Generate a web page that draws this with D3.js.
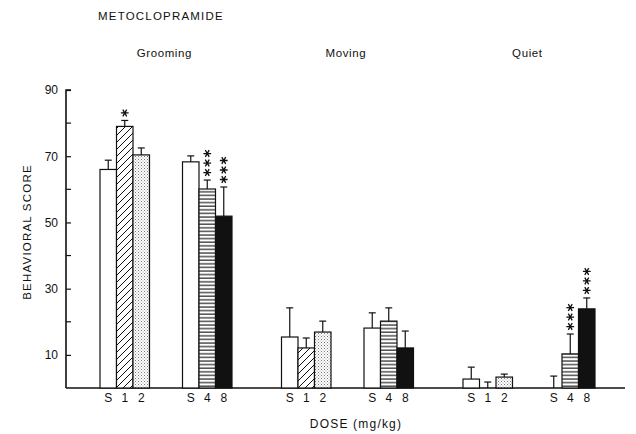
<!DOCTYPE html>
<html>
<head>
<meta charset="utf-8">
<script src="https://cdn.jsdelivr.net/npm/d3@7"></script>
<style>
  html, body { margin: 0; padding: 0; background: #fff; }
  svg { display: block; }
  text { font-family: "Liberation Sans", Arial, sans-serif; fill: #111; }
</style>
</head>
<body>
<svg id="chart" width="636" height="434"></svg>
<script>
// ---- data ----
const title = "METOCLOPRAMIDE";
const panels = ["Grooming", "Moving", "Quiet"];
const doseLabels = [["S", "1", "2"], ["S", "4", "8"]];
const patterns = [["open", "hatch", "dots"], ["open", "stripes", "solid"]];
const yTicks = [10, 30, 50, 70, 90];
const yMinorTicks = [20, 40, 60, 80];

const groomingValues = [[66, 79, 70.4], [68.3, 60.1, 51.9]];
const groomingErrors = [[2.8, 1.8, 2.1], [1.8, 2.7, 8.8]];
const groomingStars  = [[0, 1, 0], [0, 3, 3]];

const movingValues = [[15.4, 12.1, 16.9], [18.1, 20.2, 12.1]];
const movingErrors = [[8.8, 3, 3.3], [4.6, 4, 5.1]];
const movingStars  = [[0, 0, 0], [0, 0, 0]];

const quietValues = [[2.7, 0, 3.3], [0, 10.3, 23.9]];
const quietErrors = [[3.6, 1.8, 0.9], [3.6, 6, 3.3]];
const quietStars  = [[0, 0, 0], [0, 3, 3]];

const allValues = [groomingValues, movingValues, quietValues];
const allErrors = [groomingErrors, movingErrors, quietErrors];
const allStars  = [groomingStars, movingStars, quietStars];

// ---- build rows ----
const rows = [];
panels.forEach((p, pi) => {
  doseLabels.forEach((grp, gi) => {
    grp.forEach((lab, bi) => {
      rows.push({
        panel: p, pi, gi, bi, label: lab,
        pos: pi * 11 + gi * 5 + bi,
        value: allValues[pi][gi][bi],
        err: allErrors[pi][gi][bi],
        stars: allStars[pi][gi][bi],
        pattern: patterns[gi][bi]
      });
    });
  });
});

const svg = d3.select("#chart");

// ---- scales ----
const x = d3.scaleLinear().domain([0, 1]).range([100, 116.5]);
const y = d3.scaleLinear().domain([0, 90]).range([388, 90]);
const bw = x(1) - x(0);

// ---- patterns ----
const defs = svg.append("defs");
const ph = defs.append("pattern").attr("id", "hatch").attr("patternUnits", "userSpaceOnUse")
  .attr("width", 7).attr("height", 7);
ph.append("rect").attr("width", 7).attr("height", 7).attr("fill", "#fff");
ph.append("path").attr("d", "M-1,8 L8,-1 M-1,1 L1,-1 M6,8 L8,6")
  .attr("stroke", "#111").attr("stroke-width", 1);

const pd = defs.append("pattern").attr("id", "dots").attr("patternUnits", "userSpaceOnUse")
  .attr("width", 3).attr("height", 3);
pd.append("rect").attr("width", 3).attr("height", 3).attr("fill", "#fff");
pd.append("rect").attr("x", 0).attr("y", 0).attr("width", 1).attr("height", 1).attr("fill", "#777");
pd.append("rect").attr("x", 1.5).attr("y", 1.5).attr("width", 1).attr("height", 1).attr("fill", "#999");

const ps = defs.append("pattern").attr("id", "stripes").attr("patternUnits", "userSpaceOnUse")
  .attr("width", 6).attr("height", 3.6);
ps.append("rect").attr("width", 6).attr("height", 3.6).attr("fill", "#fff");
ps.append("line").attr("x1", 0).attr("x2", 6).attr("y1", 1).attr("y2", 1)
  .attr("stroke", "#111").attr("stroke-width", 1.1);

const fillFor = p => p === "open" ? "#fff" : p === "solid" ? "#111" : `url(#${p})`;

// ---- axes ----
const yAxis = d3.axisLeft(y).tickValues(yTicks).tickSize(-5).tickPadding(8)
  .tickFormat(d3.format("d"));
const gy = svg.append("g").attr("transform", `translate(66,0)`).call(yAxis);
gy.select(".domain").attr("d", `M-0,${y(90)}H5H0V${y(0)}`).attr("stroke", "#111").attr("stroke-width", 1.6).attr("fill", "none");
gy.selectAll(".tick line").attr("stroke", "#111").attr("stroke-width", 1.2);
gy.selectAll(".tick text").style("font-size", "12px").attr("fill", "#111")
  .style("font-family", '"Liberation Sans", Arial, sans-serif');
gy.selectAll(".minor").data(yMinorTicks).enter().append("line")
  .attr("x1", 0).attr("x2", 5).attr("y1", d => y(d)).attr("y2", d => y(d))
  .attr("stroke", "#111").attr("stroke-width", 1.2);

// baseline
svg.append("line").attr("x1", 66).attr("x2", 625).attr("y1", y(0)).attr("y2", y(0))
  .attr("stroke", "#111").attr("stroke-width", 1.4);

// ---- bars ----
svg.append("g").selectAll("rect").data(rows.filter(d => d.value > 0)).enter().append("rect")
  .attr("x", d => x(d.pos))
  .attr("y", d => y(d.value))
  .attr("width", bw)
  .attr("height", d => y(0) - y(d.value))
  .attr("fill", d => fillFor(d.pattern))
  .attr("stroke", "#111").attr("stroke-width", 1.2);

// ---- error bars ----
const eg = svg.append("g").attr("stroke", "#111").attr("stroke-width", 1.2);
rows.forEach(d => {
  const cx = x(d.pos + 0.5);
  eg.append("line").attr("x1", cx).attr("x2", cx)
    .attr("y1", y(d.value)).attr("y2", y(d.value + d.err));
  eg.append("line").attr("x1", cx - 3.5).attr("x2", cx + 3.5)
    .attr("y1", y(d.value + d.err)).attr("y2", y(d.value + d.err));
});

// ---- significance stars (asterisk symbols) ----
const star = d3.symbol().type(d3.symbolAsterisk).size(42);
const sg = svg.append("g").attr("stroke", "#111").attr("stroke-width", 1.3).attr("fill", "none");
rows.filter(d => d.stars > 0).forEach(d => {
  const cx = x(d.pos + 0.5);
  const top = y(d.value + d.err);
  for (let k = 0; k < d.stars; k++) {
    sg.append("path").attr("d", star())
      .attr("transform", `translate(${cx},${top - 7.5 - k * 9.5}) rotate(90)`);
  }
});

// ---- dose labels ----
svg.append("g").selectAll("text").data(rows).enter().append("text")
  .attr("x", d => x(d.pos + 0.5))
  .attr("y", 402)
  .attr("text-anchor", "middle")
  .style("font-size", "12px")
  .text(d => d.label);

// ---- panel titles ----
svg.append("g").selectAll("text").data(panels).enter().append("text")
  .attr("x", (d, i) => x(i * 11 + 3.9))
  .attr("y", 57)
  .attr("text-anchor", "middle")
  .style("font-size", "11.5px")
  .style("letter-spacing", "0.6px")
  .text(d => d);

// ---- titles ----
svg.append("text").attr("x", 98).attr("y", 20).style("font-size", "11.5px")
  .style("letter-spacing", "1.2px").text(title);

svg.append("text").attr("x", 356).attr("y", 428).attr("text-anchor", "middle")
  .style("font-size", "12px").style("letter-spacing", "1.2px").text("DOSE (mg/kg)");

svg.append("text").attr("transform", "translate(31,232) rotate(-90)")
  .attr("text-anchor", "middle").style("font-size", "11.5px")
  .style("letter-spacing", "1.2px").text("BEHAVIORAL SCORE");
</script>
</body>
</html>
